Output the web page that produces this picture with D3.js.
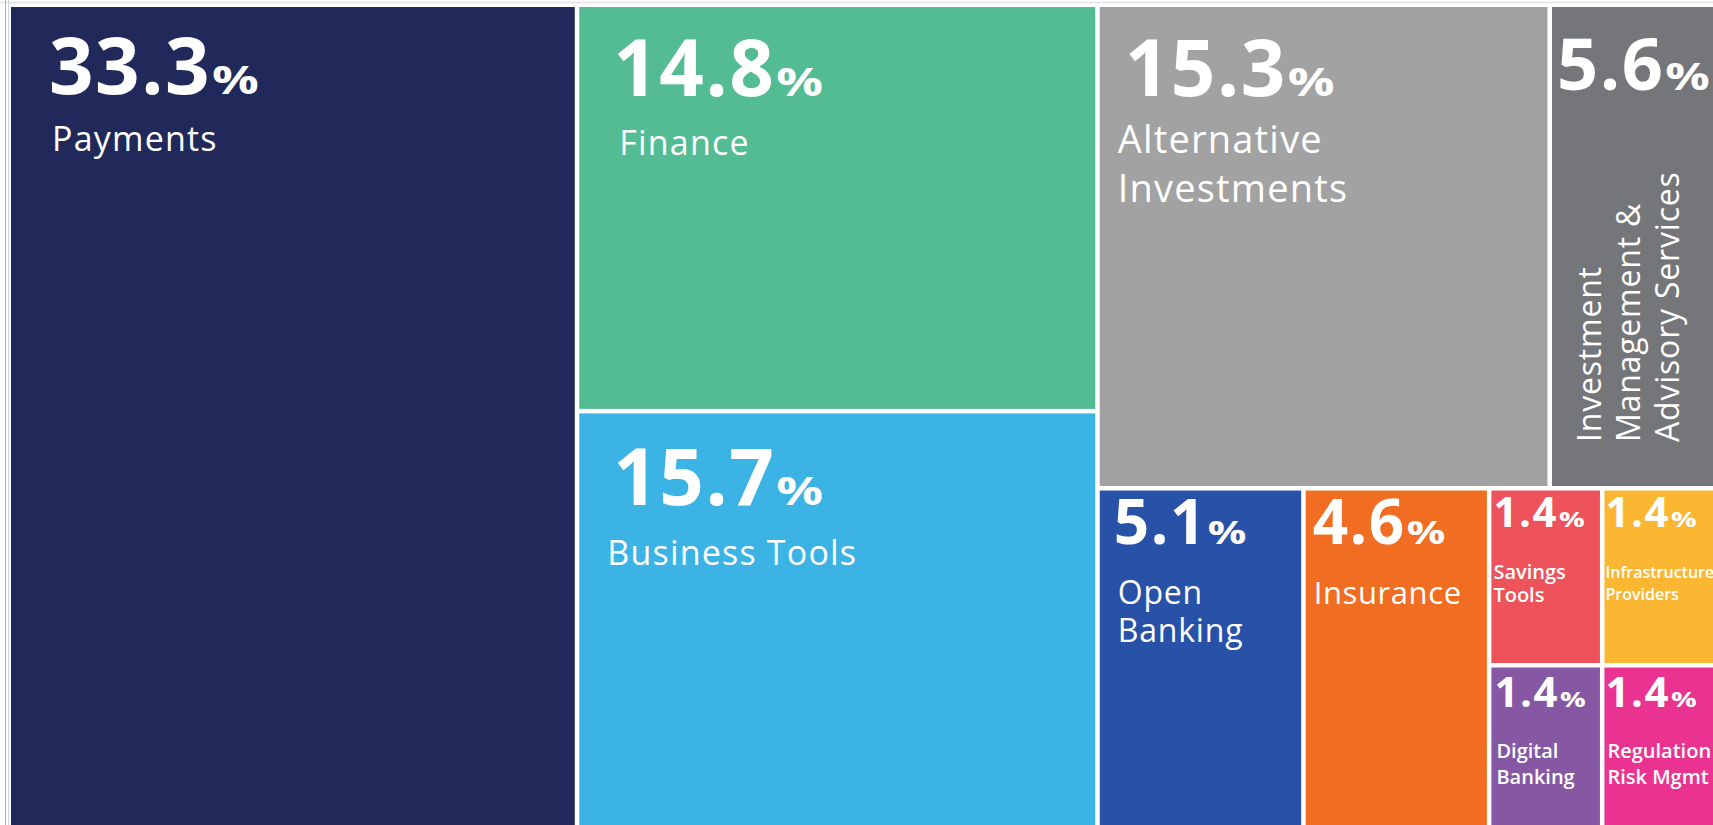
<!DOCTYPE html>
<html>
<head>
<meta charset="utf-8">
<script src="https://d3js.org/d3.v7.min.js"></script>
<title>Fintech segments treemap</title>
<style>
  body { margin: 0; background: #ffffff; }
  svg { display: block; font-family: "Open Sans", "Noto Sans", sans-serif; }
</style>
</head>
<body>
<div id="chart"></div>
<script>
// segment names and their share of the total (%)
var segments = ["Payments", "Finance", "Business Tools", "Alternative Investments",
  "Investment Management & Advisory Services", "Open Banking", "Insurance",
  "Savings Tools", "Infrastructure Providers", "Digital Banking", "Regulation Risk Mgmt"];
var shares = [33.3, 14.8, 15.7, 15.3, 5.6, 5.1, 4.6, 1.4, 1.4, 1.4, 1.4];

// how each name breaks over lines inside its box
var labelLines = [["Payments"], ["Finance"], ["Business Tools"], ["Alternative", "Investments"],
  ["Investment", "Management &", "Advisory Services"], ["Open", "Banking"], ["Insurance"],
  ["Savings", "Tools"], ["Infrastructure", "Providers"], ["Digital", "Banking"], ["Regulation", "Risk Mgmt"]];

// nesting of boxes (indices into segments); levels are diced / sliced in turn
var nesting = [0, [1, 2], [[3, 4], [5, 6, [[7, 8], [9, 10]]]]];

// fill colours, same order as segments
var colors = ["#20295a", "#53bc93", "#3bb3e5", "#a1a2a1", "#757679", "#2852a8",
  "#f06d22", "#ee525b", "#fbb732", "#8658a4", "#ea3390"];

// text placement inside each box (offsets from the box's top-left corner)
var textStyle = [
  {num: 78, pct: 40, nx: 38, ny: 87, lab: 34, lw: 400, ls: 1.2, lx: 41, ly: 144, lh: 46},
  {num: 78, pct: 40, nx: 34, ny: 89, lab: 34, lw: 400, ls: 1.2, lx: 40, ly: 148, lh: 46},
  {num: 78, pct: 40, nx: 34, ny: 92, lab: 34, lw: 400, ls: 1.2, lx: 28, ly: 152, lh: 46},
  {num: 78, pct: 40, nx: 25, ny: 89, lab: 38, lw: 400, ls: 1.2, lx: 18, ly: 146, lh: 49},
  {num: 72, pct: 38, nx: 5, ny: 83, lab: 32, lw: 400, ls: 0.8, lx: 49, ly: 435, lh: 39, rotate: true},
  {num: 62, pct: 33, nx: 14, ny: 53, lab: 32, lw: 400, ls: 0.8, lx: 18, ly: 113, lh: 38},
  {num: 62, pct: 33, nx: 7, ny: 53, lab: 31, lw: 400, ls: 0.6, lx: 8, ly: 113, lh: 38},
  {num: 42, pct: 22, nx: 2, ny: 36, lab: 20, lw: 600, ls: 0, lx: 2, ly: 88, lh: 23},
  {num: 42, pct: 22, nx: 1, ny: 36, lab: 16, lw: 600, ls: 0, lx: 1, ly: 87, lh: 22},
  {num: 42, pct: 22, nx: 3, ny: 39, lab: 20, lw: 600, ls: 0, lx: 5, ly: 90, lh: 26},
  {num: 42, pct: 22, nx: 1, ny: 39, lab: 20, lw: 600, ls: 0, lx: 3, ly: 90, lh: 26}
];

var width = 1713, height = 825;
var margin = {top: 7, left: 11};

var svg = d3.select("#chart").append("svg")
  .attr("width", width)
  .attr("height", height);

// faint frame lines of the original page
svg.append("line")
  .attr("x1", 0).attr("x2", width).attr("y1", 2.5).attr("y2", 2.5)
  .attr("stroke", "#e6e7ec").attr("stroke-width", 2);
svg.append("line")
  .attr("x1", 5.5).attr("x2", 5.5).attr("y1", 0).attr("y2", height)
  .attr("stroke", "#aab0c4").attr("stroke-width", 1);
svg.append("line")
  .attr("x1", 8.5).attr("x2", 8.5).attr("y1", 0).attr("y2", height)
  .attr("stroke", "#d0d4de").attr("stroke-width", 1);

function build(n) {
  if (Array.isArray(n)) return {children: n.map(build)};
  return {i: n, value: shares[n]};
}

var root = d3.hierarchy(build(nesting))
  .sum(function(d) { return d.value || 0; });

// the original picture is cropped at the bottom
d3.treemap()
  .tile(d3.treemapSliceDice)
  .size([1702, 833])
  .paddingInner(4.5)
  (root);

var g = svg.append("g")
  .attr("transform", "translate(" + margin.left + "," + margin.top + ")");

var cell = g.selectAll("g.cell")
  .data(root.leaves())
  .enter().append("g")
  .attr("class", "cell")
  .attr("transform", function(d) { return "translate(" + d.x0 + "," + d.y0 + ")"; });

cell.append("rect")
  .attr("width", function(d) { return d.x1 - d.x0; })
  .attr("height", function(d) { return d.y1 - d.y0; })
  .attr("fill", function(d) { return colors[d.data.i]; });

cell.each(function(d) {
  var s = textStyle[d.data.i];
  var c = d3.select(this);

  // big percentage figure
  var fig = c.append("text")
    .attr("x", s.nx)
    .attr("y", s.ny)
    .attr("fill", "#ffffff")
    .attr("font-weight", 700)
    .attr("font-size", s.num + "px")
    .attr("letter-spacing", "1.5px")
    .text(shares[d.data.i].toFixed(1));
  var w = fig.node().getComputedTextLength();

  // the wide, short % sign of the original
  c.append("text")
    .attr("transform", "translate(" + (s.nx + w + 1) + "," + s.ny + ") scale(1.3,1)")
    .attr("fill", "#ffffff")
    .attr("font-weight", 700)
    .attr("font-size", s.pct + "px")
    .text("%");

  // segment name
  var lab = c.append("text")
    .attr("fill", "#ffffff")
    .attr("font-size", s.lab + "px")
    .attr("font-weight", s.lw)
    .attr("letter-spacing", s.ls + "px")
    .attr("transform", s.rotate
      ? "translate(" + s.lx + "," + s.ly + ") rotate(-90)"
      : "translate(" + s.lx + "," + s.ly + ")");
  lab.selectAll("tspan")
    .data(labelLines[d.data.i])
    .enter().append("tspan")
    .attr("x", 0)
    .attr("y", function(t, k) { return k * s.lh; })
    .text(function(t) { return t; });
});
</script>
</body>
</html>
